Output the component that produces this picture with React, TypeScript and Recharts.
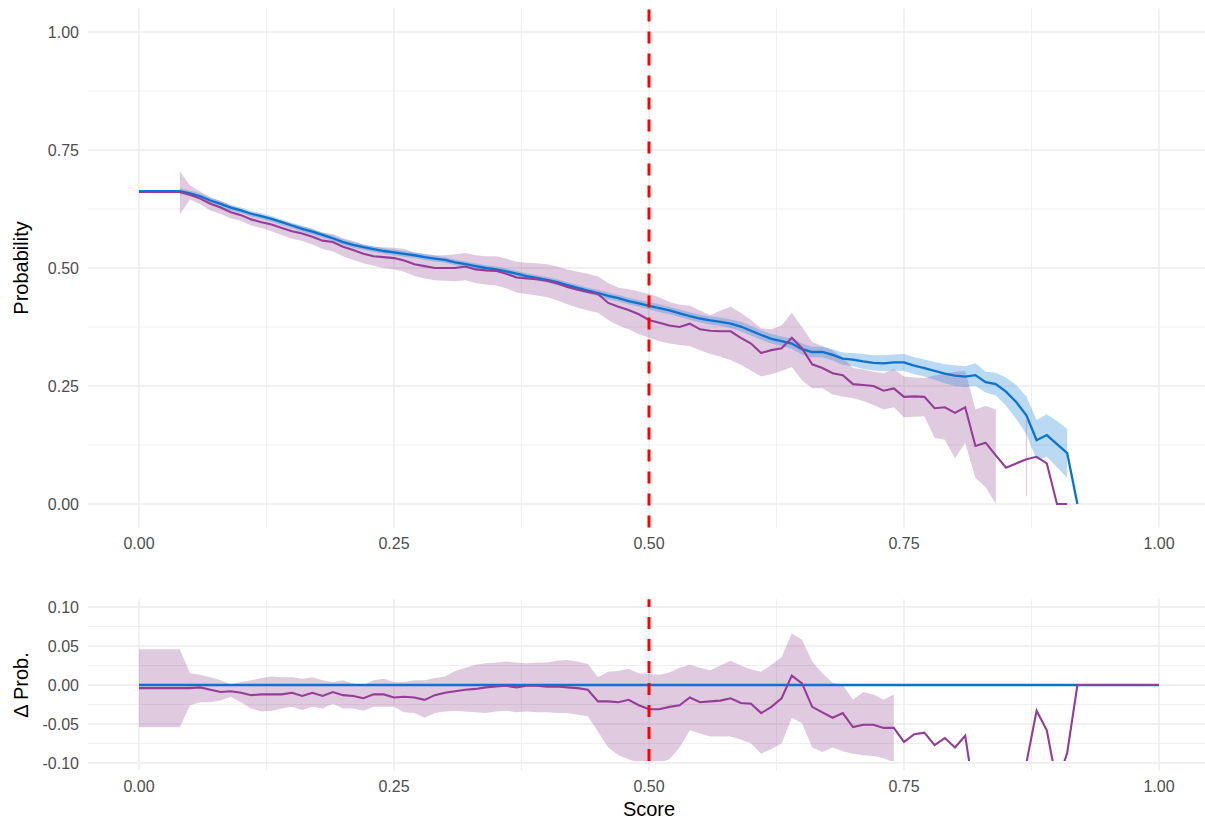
import {
  ComposedChart,
  Line,
  Area,
  XAxis,
  YAxis,
  CartesianGrid,
  ReferenceLine,
} from "recharts";

const FONT = '"Liberation Sans", Arial, Helvetica, sans-serif';

// score bins, 0.00 .. 1.00
const scores = Array.from({ length: 101 }, (_, i) => i / 100);

const xTicks = [0, 0.25, 0.5, 0.75, 1];
const xMinor = [0.125, 0.375, 0.625, 0.875];
const probTicks = [0, 0.25, 0.5, 0.75, 1];
const probMinor = [0.125, 0.375, 0.625, 0.875];
const deltaTicks = [-0.1, -0.05, 0, 0.05, 0.1];
const deltaMinor = [-0.075, -0.025, 0.025, 0.075];
const threshold = 0.5;

// top panel: blue series
const blueProb = [
  0.663, 0.663, 0.663, 0.663, 0.663, 0.658, 0.652, 0.643, 0.636, 0.628,
  0.622, 0.615, 0.61, 0.604, 0.597, 0.59, 0.583, 0.577, 0.57, 0.563,
  0.555, 0.549, 0.544, 0.54, 0.536, 0.533, 0.53, 0.527, 0.523, 0.52,
  0.517, 0.512, 0.508, 0.504, 0.5, 0.497, 0.493, 0.488, 0.483, 0.479,
  0.475, 0.47, 0.464, 0.458, 0.452, 0.447, 0.441, 0.436, 0.43, 0.425,
  0.42, 0.415, 0.41, 0.404, 0.398, 0.393, 0.389, 0.386, 0.382, 0.376,
  0.367, 0.358, 0.35, 0.345, 0.34, 0.328, 0.322, 0.322, 0.316, 0.308,
  0.306, 0.302, 0.299, 0.298, 0.3, 0.3, 0.293, 0.288, 0.282, 0.276,
  0.272, 0.27, 0.273, 0.258, 0.254, 0.238, 0.216, 0.188, 0.135, 0.146,
  0.127, 0.108, 0, null, null, null, null, null, null, null,
  null,
];
const blueLo = [
  null, null, null, null, 0.657, 0.652, 0.646, 0.637, 0.63, 0.622,
  0.616, 0.609, 0.604, 0.598, 0.591, 0.584, 0.577, 0.571, 0.564, 0.557,
  0.549, 0.543, 0.538, 0.534, 0.53, 0.527, 0.524, 0.521, 0.517, 0.514,
  0.511, 0.506, 0.502, 0.498, 0.494, 0.491, 0.487, 0.482, 0.477, 0.473,
  0.469, 0.464, 0.458, 0.452, 0.446, 0.44, 0.434, 0.429, 0.423, 0.418,
  0.412, 0.407, 0.402, 0.396, 0.39, 0.385, 0.38, 0.377, 0.373, 0.366,
  0.357, 0.348, 0.34, 0.335, 0.329, 0.316, 0.311, 0.311, 0.304, 0.295,
  0.292, 0.286, 0.283, 0.281, 0.283, 0.282, 0.275, 0.27, 0.263, 0.256,
  0.25, 0.248, 0.25, 0.236, 0.23, 0.208, 0.18, 0.148, 0.093, 0.1,
  0.078, 0.055, null, null, null, null, null, null, null, null,
  null,
];
const blueHi = [
  null, null, null, null, 0.669, 0.664, 0.658, 0.649, 0.642, 0.634,
  0.628, 0.621, 0.616, 0.61, 0.603, 0.596, 0.589, 0.583, 0.576, 0.569,
  0.561, 0.555, 0.55, 0.546, 0.542, 0.539, 0.536, 0.533, 0.529, 0.526,
  0.523, 0.518, 0.514, 0.51, 0.506, 0.503, 0.499, 0.494, 0.489, 0.485,
  0.481, 0.476, 0.47, 0.464, 0.458, 0.454, 0.448, 0.443, 0.437, 0.432,
  0.428, 0.423, 0.418, 0.412, 0.406, 0.401, 0.398, 0.395, 0.391, 0.386,
  0.377, 0.368, 0.36, 0.355, 0.351, 0.34, 0.333, 0.333, 0.328, 0.321,
  0.32, 0.318, 0.315, 0.315, 0.317, 0.318, 0.311, 0.306, 0.301, 0.296,
  0.294, 0.292, 0.298, 0.28, 0.278, 0.268, 0.252, 0.228, 0.178, 0.19,
  0.176, 0.159, null, null, null, null, null, null, null, null,
  null,
];

// top panel: purple series
const purpleProb = [
  0.661, 0.661, 0.661, 0.661, 0.661, 0.655, 0.647, 0.636, 0.628, 0.618,
  0.612, 0.603, 0.597, 0.592, 0.585, 0.578, 0.573, 0.566, 0.558, 0.555,
  0.545, 0.538, 0.53, 0.525, 0.523, 0.521, 0.516, 0.508, 0.504, 0.5,
  0.5, 0.5, 0.503, 0.497, 0.495, 0.494, 0.488, 0.48, 0.478, 0.476,
  0.473, 0.467, 0.46, 0.454, 0.449, 0.445, 0.426, 0.418, 0.411, 0.402,
  0.39, 0.384, 0.378, 0.375, 0.382, 0.37, 0.367, 0.366, 0.366, 0.352,
  0.34, 0.32, 0.326, 0.33, 0.352, 0.33, 0.296, 0.288, 0.277, 0.273,
  0.254, 0.252, 0.25, 0.24, 0.245, 0.227, 0.228, 0.227, 0.203, 0.205,
  0.193, 0.205, 0.123, 0.13, 0.103, 0.077, 0.086, 0.095, 0.1, 0.086,
  0, 0, null, null, null, null, null, null, null, null,
  null,
];
const purpleLo = [
  null, null, null, null, 0.614, 0.645, 0.635, 0.622, 0.615, 0.605,
  0.6, 0.59, 0.585, 0.578, 0.57, 0.562, 0.557, 0.55, 0.54, 0.535,
  0.525, 0.517, 0.51, 0.505, 0.5, 0.497, 0.492, 0.483, 0.478, 0.474,
  0.473, 0.472, 0.474, 0.468, 0.465, 0.463, 0.457, 0.448, 0.445, 0.442,
  0.438, 0.431, 0.423, 0.416, 0.41, 0.405, 0.39, 0.378, 0.37, 0.36,
  0.352, 0.345, 0.34, 0.337, 0.335, 0.326, 0.318, 0.312, 0.305, 0.295,
  0.283, 0.27, 0.275, 0.282, 0.29, 0.262, 0.245, 0.245, 0.232, 0.228,
  0.224, 0.218, 0.21, 0.2, 0.205, 0.184, 0.185, 0.186, 0.14, 0.136,
  0.097, 0.129, 0.055, 0.036, 0, null, null, null, null, null,
  null, null, null, null, null, null, null, null, null, null,
  null,
];
const purpleHi = [
  null, null, null, null, 0.705, 0.675, 0.662, 0.65, 0.642, 0.632,
  0.625, 0.616, 0.61, 0.605, 0.6, 0.594, 0.589, 0.582, 0.574, 0.572,
  0.563, 0.557, 0.55, 0.545, 0.544, 0.543, 0.54, 0.533, 0.53, 0.527,
  0.527, 0.529, 0.532, 0.527, 0.525, 0.525, 0.52, 0.513, 0.511, 0.51,
  0.508, 0.503, 0.497, 0.492, 0.488, 0.482, 0.468, 0.458, 0.455, 0.45,
  0.445, 0.438, 0.428, 0.422, 0.42, 0.41, 0.4, 0.41, 0.418, 0.405,
  0.39, 0.372, 0.37, 0.378, 0.405, 0.375, 0.343, 0.335, 0.325, 0.31,
  0.288, 0.285, 0.28, 0.277, 0.286, 0.27, 0.268, 0.267, 0.272, 0.276,
  0.28, 0.282, 0.2, 0.208, 0.2, null, null, null, null, null,
  null, null, null, null, null, null, null, null, null, null,
  null,
];
// lone ribbon bin near the end of the purple band
const purpleLone = { x: 0.87, lo: 0.017, hi: 0.178 };

// bottom panel: differences
const deltaBlue = [
  0, 0, 0, 0, 0, 0, 0, 0, 0, 0,
  0, 0, 0, 0, 0, 0, 0, 0, 0, 0,
  0, 0, 0, 0, 0, 0, 0, 0, 0, 0,
  0, 0, 0, 0, 0, 0, 0, 0, 0, 0,
  0, 0, 0, 0, 0, 0, 0, 0, 0, 0,
  0, 0, 0, 0, 0, 0, 0, 0, 0, 0,
  0, 0, 0, 0, 0, 0, 0, 0, 0, 0,
  0, 0, 0, 0, 0, 0, 0, 0, 0, 0,
  0, 0, 0, 0, 0, 0, 0, 0, 0, 0,
  0, 0, 0, 0, 0, 0, 0, 0, 0, 0,
  0,
];
const deltaPurple = [
  -0.004, -0.004, -0.004, -0.004, -0.004, -0.004, -0.003, -0.006, -0.009, -0.008,
  -0.01, -0.013, -0.012, -0.012, -0.012, -0.01, -0.014, -0.01, -0.014, -0.009,
  -0.013, -0.014, -0.017, -0.012, -0.012, -0.016, -0.015, -0.016, -0.019, -0.013,
  -0.01, -0.008, -0.006, -0.005, -0.003, -0.002, -0.001, -0.003, -0.001, -0.001,
  -0.002, -0.002, -0.003, -0.004, -0.006, -0.021, -0.021, -0.022, -0.019, -0.026,
  -0.031, -0.031, -0.028, -0.026, -0.016, -0.022, -0.021, -0.02, -0.017, -0.023,
  -0.024, -0.036, -0.028, -0.017, 0.012, 0.002, -0.028, -0.035, -0.042, -0.036,
  -0.054, -0.051, -0.051, -0.055, -0.055, -0.073, -0.063, -0.061, -0.077, -0.068,
  -0.08, -0.065, -0.15, -0.128, -0.151, -0.161, -0.13, -0.1, -0.033, -0.058,
  -0.127, -0.087, 0, 0, 0, 0, 0, 0, 0, 0,
  0,
];
const deltaLo = [
  -0.054, -0.054, -0.054, -0.054, -0.054, -0.026, -0.022, -0.022, -0.02, -0.015,
  -0.022, -0.03, -0.034, -0.033, -0.03, -0.028, -0.032, -0.028, -0.03, -0.024,
  -0.03, -0.03, -0.033, -0.028, -0.028, -0.028, -0.035, -0.036, -0.042, -0.036,
  -0.034, -0.033, -0.034, -0.035, -0.036, -0.034, -0.033, -0.035, -0.034, -0.035,
  -0.035, -0.036, -0.036, -0.038, -0.04, -0.06, -0.08, -0.09, -0.095, -0.1,
  -0.1, -0.1, -0.095, -0.08, -0.058, -0.062, -0.066, -0.066, -0.066, -0.07,
  -0.075, -0.088, -0.082, -0.075, -0.042, -0.049, -0.08, -0.086, -0.08, -0.085,
  -0.088, -0.09, -0.091, -0.094, -0.099, null, null, null, null, null,
  null, null, null, null, null, null, null, null, null, null,
  null, null, null, null, null, null, null, null, null, null,
  null,
];
const deltaHi = [
  0.046, 0.046, 0.046, 0.046, 0.046, 0.015, 0.013, 0.01, 0.006, 0.001,
  0.004, 0.006, 0.009, 0.011, 0.01, 0.01, 0.008, 0.01, 0.006, 0.004,
  0.006, 0.002, 0, 0.006, 0.008, 0.004, 0.004, 0.006, 0.006, 0.009,
  0.011, 0.018, 0.022, 0.026, 0.028, 0.029, 0.03, 0.029, 0.028, 0.029,
  0.029, 0.031, 0.032, 0.03, 0.027, 0.01, 0.017, 0.018, 0.021, 0.015,
  0.014, 0.013, 0.016, 0.022, 0.026, 0.022, 0.019, 0.025, 0.031, 0.025,
  0.02, 0.017, 0.026, 0.036, 0.066, 0.058, 0.03, 0.015, 0.003, 0,
  -0.019, -0.009, -0.012, -0.019, -0.012, null, null, null, null, null,
  null, null, null, null, null, null, null, null, null, null,
  null, null, null, null, null, null, null, null, null, null,
  null,
];

const BLUE = "#0A72CF";
const PURPLE = "#953C98";
const BLUE_FILL = "#2E8BDB";
const PURPLE_FILL = "#8E3A8E";
const GRID = "#EBEBEB";

const band = (lo: (number | null)[], hi: (number | null)[], i: number) =>
  lo[i] == null || hi[i] == null ? null : [lo[i], hi[i]];

const topData = scores.map((x, i) => ({
  x,
  blue: blueProb[i],
  purple: purpleProb[i],
  blueBand: band(blueLo, blueHi, i),
  purpleBand: band(purpleLo, purpleHi, i),
}));

const bottomData = scores.map((x, i) => ({
  x,
  blue: deltaBlue[i],
  purple: deltaPurple[i],
  purpleBand: band(deltaLo, deltaHi, i),
}));

const W = 1197;
const X_DOMAIN: [number, number] = [-0.05, 1.0451];
const tickStyle = { fill: "#4D4D4D", fontSize: 16, fontFamily: FONT };
const fmt = (v: number) => v.toFixed(2);

function YTitle({ text, cy }: { text: string; cy: number }) {
  return (
    <text
      x={13}
      y={cy}
      transform={`rotate(-90, 13, ${cy})`}
      textAnchor="middle"
      dominantBaseline="central"
      fontSize={20}
      fontFamily={FONT}
      fill="#000"
    >
      {text}
    </text>
  );
}

function XTitle({ text, baseline }: { text: string; baseline: number }) {
  return (
    <text x={641} y={baseline} textAnchor="middle" fontSize={20} fontFamily={FONT} fill="#000">
      {text}
    </text>
  );
}

function Grid({ xs, ys, width }: { xs: number[]; ys: number[]; width: number }) {
  return (
    <CartesianGrid
      verticalValues={xs}
      horizontalValues={ys}
      stroke={GRID}
      strokeWidth={width}
      fill="none"
    />
  );
}

export default function App() {
  return (
    <div
      style={{
        position: "relative",
        width: 1205,
        height: 822,
        overflow: "hidden",
        fontFamily: FONT,
        background: "#fff",
      }}
    >
      <style>{"html, body { margin: 0; padding: 0; overflow: hidden; }"}</style>

      {/* Probability panel */}
      <div style={{ position: "absolute", left: 8, top: 8 }}>
        <ComposedChart
          width={W}
          height={560}
          data={topData}
          margin={{ top: 0.4, right: 0, bottom: 0.4, left: 0 }}
        >
          {Grid({ xs: xMinor, ys: probMinor, width: 0.8 })}
          {Grid({ xs: xTicks, ys: probTicks, width: 1.4 })}
          <XAxis
            type="number"
            dataKey="x"
            domain={X_DOMAIN}
            allowDataOverflow
            ticks={xTicks}
            interval={0}
            tickFormatter={fmt}
            tick={tickStyle}
            axisLine={false}
            tickLine={false}
            tickSize={0}
            tickMargin={10}
            height={40}
          />
          <YAxis
            type="number"
            domain={[-0.05, 1.05]}
            allowDataOverflow
            ticks={probTicks}
            interval={0}
            tickFormatter={fmt}
            tick={tickStyle}
            axisLine={false}
            tickLine={false}
            tickSize={0}
            tickMargin={9}
            width={80}
            label={<YTitle text="Probability" cy={260} />}
          />
          <Area
            type="linear"
            dataKey="purpleBand"
            stroke="none"
            fill={PURPLE_FILL}
            fillOpacity={0.27}
            isAnimationActive={false}
            activeDot={false}
          />
          <Area
            type="linear"
            dataKey="blueBand"
            stroke="none"
            fill={BLUE_FILL}
            fillOpacity={0.33}
            isAnimationActive={false}
            activeDot={false}
          />
          <ReferenceLine
            segment={[
              { x: purpleLone.x, y: purpleLone.lo },
              { x: purpleLone.x, y: purpleLone.hi },
            ]}
            stroke={PURPLE_FILL}
            strokeOpacity={0.3}
            strokeWidth={1}
          />
          <Line
            type="linear"
            dataKey="blue"
            stroke={BLUE}
            strokeWidth={2.3}
            dot={false}
            activeDot={false}
            isAnimationActive={false}
          />
          <Line
            type="linear"
            dataKey="purple"
            stroke={PURPLE}
            strokeWidth={2.1}
            dot={false}
            activeDot={false}
            isAnimationActive={false}
          />
          <ReferenceLine x={threshold} stroke="#FF0000" strokeWidth={3} strokeDasharray="12 10" />
        </ComposedChart>
      </div>

      {/* Δ panel: grid, axes and titles */}
      <div style={{ position: "absolute", left: 8, top: 590 }}>
        <ComposedChart
          width={W}
          height={232}
          data={bottomData}
          margin={{ top: 9.2, right: 0, bottom: 0, left: 0 }}
        >
          {Grid({ xs: xMinor, ys: deltaMinor, width: 0.8 })}
          {Grid({ xs: xTicks, ys: deltaTicks, width: 1.4 })}
          <XAxis
            type="number"
            dataKey="x"
            domain={X_DOMAIN}
            allowDataOverflow
            ticks={xTicks}
            interval={0}
            tickFormatter={fmt}
            tick={tickStyle}
            axisLine={false}
            tickLine={false}
            tickSize={0}
            tickMargin={10}
            height={51.2}
            label={<XTitle text="Score" baseline={226} />}
          />
          <YAxis
            type="number"
            domain={[-0.11, 0.11]}
            allowDataOverflow
            ticks={deltaTicks}
            interval={0}
            tickFormatter={fmt}
            tick={tickStyle}
            axisLine={false}
            tickLine={false}
            tickSize={0}
            tickMargin={9}
            width={80}
            label={<YTitle text={"\u0394 Prob."} cy={95} />}
          />
          <Line dataKey="blue" stroke="none" dot={false} activeDot={false} isAnimationActive={false} />
        </ComposedChart>
      </div>

      {/* Δ panel: data, clipped just above -0.10 */}
      <div style={{ position: "absolute", left: 8, top: 590 }}>
        <ComposedChart
          width={W}
          height={171}
          data={bottomData}
          margin={{ top: 9.2, right: 0, bottom: 0, left: 80 }}
        >
          <XAxis type="number" dataKey="x" domain={X_DOMAIN} allowDataOverflow hide />
          <YAxis type="number" domain={[-0.0974, 0.11]} allowDataOverflow hide />
          <Area
            type="linear"
            dataKey="purpleBand"
            stroke="none"
            fill={PURPLE_FILL}
            fillOpacity={0.27}
            isAnimationActive={false}
            activeDot={false}
          />
          <Line
            type="linear"
            dataKey="blue"
            stroke={BLUE}
            strokeWidth={2.3}
            dot={false}
            activeDot={false}
            isAnimationActive={false}
          />
          <Line
            type="linear"
            dataKey="purple"
            stroke={PURPLE}
            strokeWidth={2.1}
            dot={false}
            activeDot={false}
            isAnimationActive={false}
          />
          <ReferenceLine x={threshold} stroke="#FF0000" strokeWidth={3} strokeDasharray="12 10" />
        </ComposedChart>
      </div>
    </div>
  );
}
